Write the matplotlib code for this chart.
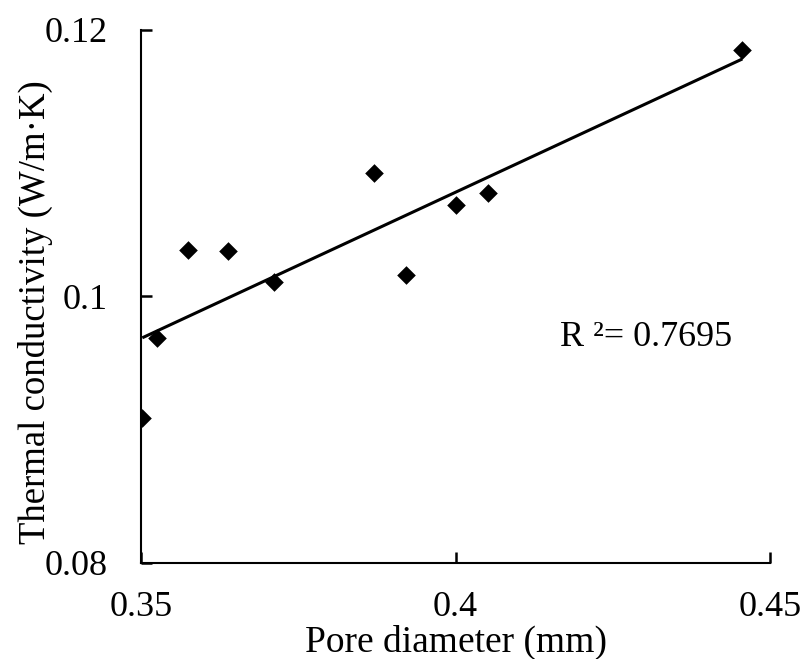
import numpy as np
import matplotlib
matplotlib.use("Agg")
import matplotlib.pyplot as plt

# pore diameter (mm) and thermal conductivity (W/m K)
pore_diameter = [0.3502, 0.3526, 0.3574, 0.3639, 0.3712, 0.3871, 0.3921, 0.4001, 0.4051, 0.4456]
conductivity = [0.0909, 0.0969, 0.1035, 0.1034, 0.1011, 0.1093, 0.1016, 0.1069, 0.1078, 0.1185]
r2_label = "R ²= 0.7695"

x_ticks = [0.35, 0.4, 0.45]
x_ticklabels = ["0.35", "0.4", "0.45"]
y_ticks = [0.08, 0.1, 0.12]
y_ticklabels = ["0.08", "0.1", "0.12"]

plt.rcParams["font.family"] = ["Liberation Serif", "DejaVu Serif"]

fig = plt.figure(figsize=(8.05, 6.59), dpi=100)
ax = fig.add_axes([0.1752, 0.1457, 0.7813, 0.8088])

x = np.array(pore_diameter)
y = np.array(conductivity)

# linear trendline over the data range
slope, intercept = np.polyfit(x, y, 1)
xs = np.array([x.min(), x.max()])
ax.plot(xs, slope * xs + intercept, color="black", lw=2.2, solid_capstyle="butt", zorder=2)

ax.scatter(x, y, marker="D", s=90, color="black", linewidths=0, zorder=3)

ax.text(0.4166, 0.0969, r2_label, fontsize=26, ha="left", va="center")

ax.set_xlim(0.35, 0.45)
ax.set_ylim(0.08, 0.12)
ax.set_xticks(x_ticks)
ax.set_xticklabels(x_ticklabels)
ax.set_yticks(y_ticks)
ax.set_yticklabels(y_ticklabels)

for side in ["top", "right"]:
    ax.spines[side].set_visible(False)
for side in ["left", "bottom"]:
    ax.spines[side].set_linewidth(1.5)

ax.xaxis.set_tick_params(direction="in", length=8, width=1.8, labelsize=26, pad=20)
ax.yaxis.set_tick_params(direction="in", length=8, width=1.8, labelsize=26, pad=24)

ax.set_xlabel("Pore diameter (mm)", fontsize=27, labelpad=1)
ax.set_ylabel("Thermal conductivity (W/m·K)", fontsize=26.5)
ax.yaxis.set_label_coords(-0.14, 0.471)

plt.savefig("out.png", dpi=100)
